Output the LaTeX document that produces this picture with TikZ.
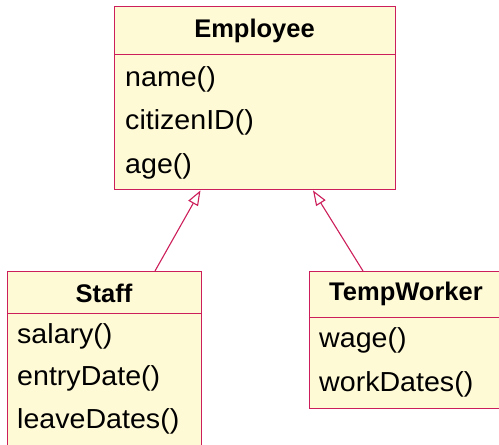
\documentclass[tikz,border=0pt]{standalone}
\usepackage{fontspec}
\setmainfont{Liberation Sans}[FakeStretch=1.04]
\newfontfamily\hdfont{Liberation Sans}
\usetikzlibrary{arrows.meta}
\definecolor{umlline}{RGB}{204,30,90}
\definecolor{umlfill}{RGB}{255,250,214}
\begin{document}
\begin{tikzpicture}[x=1pt,y=-1pt,
  compartment/.style={draw=umlline,fill=umlfill,line width=1.4pt,rectangle,
    inner sep=0pt,anchor=north west},
  title/.style={anchor=base,inner sep=0pt,font=\hdfont\bfseries\fontsize{25.5}{30}\selectfont},
  member/.style={anchor=base west,inner sep=0pt,font=\fontsize{27.5}{32}\selectfont},
  generalization/.style={draw=umlline,line width=1.1pt,
    -{Triangle[open,length=15pt,width=11pt,fill=white]}}]
\useasboundingbox (0,0) rectangle (499,445);
\clip (0,0) rectangle (499,445);

% Employee class
\node[compartment,minimum width=281pt,minimum height=48pt] (emph) at (114,6) {};
\node[compartment,minimum width=281pt,minimum height=135pt] (empb) at (114,54) {};
\node[title] (empt) at (254.5,37) {Employee};
\node[member] (m1) at (125,86) {name()};
\node[member] (m2) at (125,129.5) {citizenID()};
\node[member] (m3) at (125,173) {age()};

% Staff class
\node[compartment,minimum width=194pt,minimum height=42pt] (stfh) at (7,271) {};
\node[compartment,minimum width=194pt,minimum height=160pt] (stfb) at (7,313) {};
\node[title] (stft) at (104,302) {Staff};
\node[member] (s1) at (17,343) {salary()};
\node[member] (s2) at (17,385.5) {entryDate()};
\node[member] (s3) at (17,428) {leaveDates()};

% TempWorker class
\node[compartment,minimum width=196pt,minimum height=46pt] (tmph) at (309,271) {};
\node[compartment,minimum width=196pt,minimum height=91pt] (tmpb) at (309,317) {};
\node[title] (tmpt) at (406,300.5) {TempWorker};
\node[member] (t1) at (319,347) {wage()};
\node[member] (t2) at (319,391.5) {workDates()};

% inheritance
\draw[generalization] ([xshift=148pt]stfh.north west) -- ([xshift=86.5pt]empb.south west);
\draw[generalization] ([xshift=54pt]tmph.north west) -- ([xshift=199pt]empb.south west);
\end{tikzpicture}
\end{document}
